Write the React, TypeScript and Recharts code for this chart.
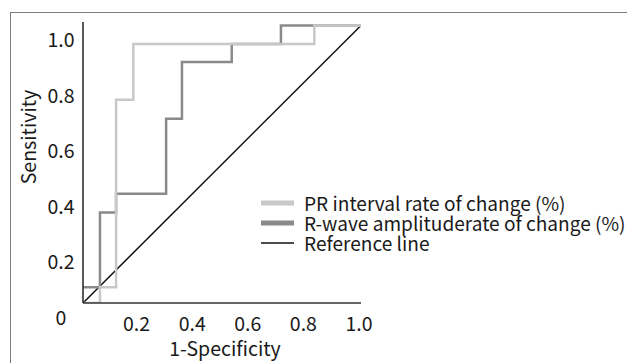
import { LineChart, Line, XAxis, YAxis } from "recharts";

// ROC curves (1-specificity, sensitivity), drawn as step-after
const prX = [0, 0.061, 0.119, 0.181, 0.832, 1.0];
const prY = [0, 0.057, 0.732, 0.933, 1.0, 1.0];

const rwX = [0, 0.061, 0.119, 0.299, 0.356, 0.535, 0.712, 1.0];
const rwY = [0.057, 0.326, 0.394, 0.664, 0.868, 0.933, 1.0, 1.0];

const refX = [0, 1];
const refY = [0, 1];

const xTicks = [0.2, 0.4, 0.6, 0.8, 1.0];
const yTicks = [0, 0.2, 0.4, 0.6, 0.8, 1.0];

const seriesNames = [
  "PR interval rate of change (%)",
  "R-wave amplituderate of change (%)",
  "Reference line",
];

const FONT = '"Noto Sans CJK SC", "Noto Sans", sans-serif';
const LIGHT = "#c8c8c8";
const DARK = "#8a8a8a";
const FS = 19.5;

const toPoints = (xs: number[], ys: number[]) => xs.map((x, i) => ({ x, y: ys[i] }));

function fmt(v: number) {
  return v === 0 ? "0" : v.toFixed(1);
}

function YTick(props: any) {
  const { y, payload } = props;
  // labels in the original sit ~15px below their gridline
  return (
    <text x={53} y={y + 15} dy="0.35em" textAnchor="middle" fill="#1a1a1a" fontSize={FS} fontFamily={FONT}>
      {fmt(payload.value)}
    </text>
  );
}

function XTick(props: any) {
  const { x, y, payload } = props;
  return (
    <text x={x - 2} y={y + 13} dy="0.35em" textAnchor="middle" fill="#1a1a1a" fontSize={FS} fontFamily={FONT}>
      {fmt(payload.value)}
    </text>
  );
}

function LegendBox() {
  const swatches = [
    { color: LIGHT, w: 5 },
    { color: DARK, w: 5 },
    { color: "#111", w: 1.5 },
  ];
  return (
    <div
      style={{
        position: "absolute",
        left: 253,
        top: 185,
        width: 400,
        fontFamily: FONT,
        fontSize: 19.1,
        color: "#1a1a1a",
        lineHeight: "20px",
      }}
    >
      {seriesNames.map((name, i) => (
        <div key={name} style={{ display: "flex", alignItems: "center", height: 20, whiteSpace: "nowrap" }}>
          <svg width={34} height={20} style={{ marginRight: 9, flexShrink: 0 }}>
            <line x1={0} x2={33} y1={10} y2={10} stroke={swatches[i].color} strokeWidth={swatches[i].w} />
          </svg>
          <span style={{ flexShrink: 0 }}>{name}</span>
        </div>
      ))}
    </div>
  );
}

export default function App() {
  return (
    <div style={{ position: "relative", width: 627, height: 355, fontFamily: FONT }}>
      <div
        style={{
          position: "absolute",
          left: 2,
          top: 4,
          width: 640,
          height: 360,
          borderTop: "1.5px solid #7a7a7a",
          borderLeft: "1.5px solid #7a7a7a",
        }}
      />
      <LineChart width={627} height={355} margin={{ top: 14, right: 274, left: 0, bottom: 0 }}>
        <XAxis
          type="number"
          dataKey="x"
          domain={[0, 1]}
          ticks={xTicks}
          tick={<XTick />}
          tickLine={false}
          axisLine={{ stroke: "#333", strokeWidth: 1.5 }}
          height={60}
          allowDataOverflow
        />
        <YAxis
          type="number"
          dataKey="y"
          domain={[0, 1.0125]}
          ticks={yTicks}
          tick={<YTick />}
          tickLine={false}
          axisLine={{ stroke: "#222", strokeWidth: 1.5 }}
          width={75}
          allowDataOverflow
        />
        <Line
          data={toPoints(refX, refY)}
          dataKey="y"
          type="linear"
          stroke="#111"
          strokeWidth={1.5}
          dot={false}
          isAnimationActive={false}
        />
        <Line
          data={toPoints(rwX, rwY)}
          dataKey="y"
          type="stepAfter"
          stroke={DARK}
          strokeWidth={2.5}
          dot={false}
          isAnimationActive={false}
        />
        <Line
          data={toPoints(prX, prY)}
          dataKey="y"
          type="stepAfter"
          stroke={LIGHT}
          strokeWidth={2.5}
          dot={false}
          isAnimationActive={false}
        />
      </LineChart>
      <LegendBox />
      <div
        style={{
          position: "absolute",
          left: 20,
          top: 129,
          transform: "translate(-50%, -50%) rotate(-90deg)",
          fontSize: FS,
          lineHeight: "20px",
          color: "#1a1a1a",
          whiteSpace: "nowrap",
        }}
      >
        Sensitivity
      </div>
      <div
        style={{
          position: "absolute",
          left: 217,
          top: 340,
          transform: "translate(-50%, -50%)",
          fontSize: FS,
          lineHeight: "20px",
          color: "#1a1a1a",
          whiteSpace: "nowrap",
        }}
      >
        1-Specificity
      </div>
    </div>
  );
}
